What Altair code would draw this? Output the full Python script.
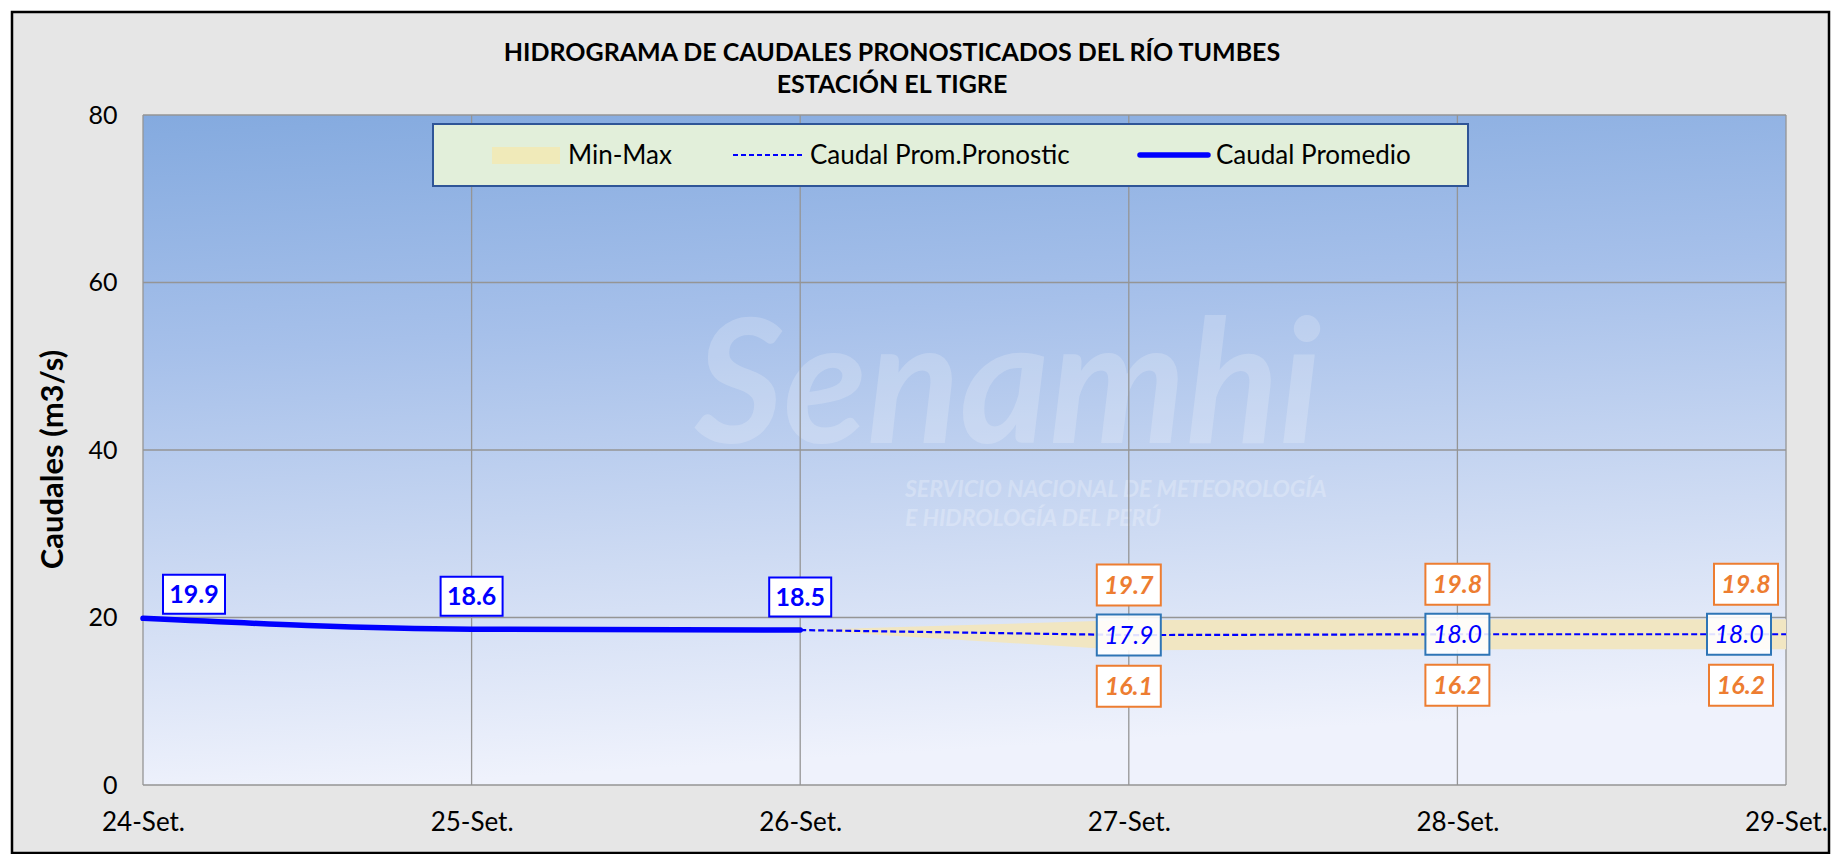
import altair as alt
import pandas as pd

# ---------------- data ----------------
fechas = ["24-Set.", "25-Set.", "26-Set.", "27-Set.", "28-Set.", "29-Set."]
caudal_obs = [19.9, 18.6, 18.5, None, None, None]
caudal_pron = [None, None, 18.5, 17.9, 18.0, 18.0]
caudal_min = [None, None, 18.5, 16.1, 16.2, 16.2]
caudal_max = [None, None, 18.5, 19.7, 19.8, 19.8]
y_ticks = [0, 20, 40, 60, 80]
titulo = ["HIDROGRAMA DE CAUDALES PRONOSTICADOS DEL RÍO TUMBES", "ESTACIÓN EL TIGRE"]
eje_y = "Caudales (m3/s)"
leyenda = ["Min-Max", "Caudal Prom.Pronostic", "Caudal Promedio"]
marca_agua = ["Senamhi", "SERVICIO NACIONAL DE METEOROLOGÍA", "E HIDROLOGÍA DEL PERÚ"]

W, H = 1643, 670
FONT = "Lato"
BLUE = "#0000FF"
ORANGE = "#ED7D31"

df = pd.DataFrame({"fecha": fechas, "i": range(len(fechas)),
                   "obs": caudal_obs, "pron": caudal_pron,
                   "mn": caudal_min, "mx": caudal_max})

xscale = alt.Scale(domain=fechas, type="point", padding=0)
yscale = alt.Scale(domain=[y_ticks[0], y_ticks[-1]], nice=False)
X = alt.X("fecha:O", scale=xscale, sort=fechas,
          axis=alt.Axis(title=None, labelFont=FONT, labelFontSize=26, labelColor="black",
                        labelAngle=0, labelAlign="center", labelBaseline="top",
                        ticks=False, domain=False, grid=False, labelPadding=24,
                        labelFlush=False, labelBound=False, labelOverlap=False, zindex=5))
Xplain = alt.X("fecha:O", scale=xscale, sort=fechas)

base = alt.Chart(df)

# frame / background of the whole chart
frame = alt.Chart(pd.DataFrame({"k": [0]})).mark_rect(
    fill="#E6E6E6", stroke="black", strokeWidth=2.5
).encode(x=alt.value(-131), x2=alt.value(1686), y=alt.value(-103), y2=alt.value(738))

# plot area gradient
bg = alt.Chart(pd.DataFrame({"x0": [fechas[0]], "x1": [fechas[-1]],
                             "y0": [y_ticks[0]], "y1": [y_ticks[-1]]})).mark_rect(
    fill={"gradient": "linear", "x1": 0, "y1": 0, "x2": 0.15, "y2": 1,
          "stops": [{"offset": 0, "color": "#84AADF"},
                    {"offset": 0.35, "color": "#A6C0EA"},
                    {"offset": 0.7, "color": "#CEDBF3"},
                    {"offset": 1, "color": "#EFF2FC"}]}
).encode(x=alt.X("x0:O", scale=xscale), x2="x1:O",
         y=alt.Y("y0:Q", scale=yscale), y2="y1:Q")

# watermark
wm_df = pd.DataFrame({"t": marca_agua})
wm1 = alt.Chart(wm_df).transform_filter(alt.datum.t == marca_agua[0]).mark_text(
    font=FONT, fontSize=172, fontWeight="bold", fontStyle="italic", color="white",
    opacity=0.2, align="center", baseline="alphabetic"
).encode(text="t:N", x=alt.value(865), y=alt.value(328))
wm2 = alt.Chart(wm_df).transform_filter(alt.datum.t == marca_agua[1]).mark_text(
    font=FONT, fontSize=23, fontWeight="bold", fontStyle="italic", color="white",
    opacity=0.25, align="left", baseline="alphabetic"
).encode(text="t:N", x=alt.value(762), y=alt.value(382))
wm3 = alt.Chart(wm_df).transform_filter(alt.datum.t == marca_agua[2]).mark_text(
    font=FONT, fontSize=23, fontWeight="bold", fontStyle="italic", color="white",
    opacity=0.25, align="left", baseline="alphabetic"
).encode(text="t:N", x=alt.value(762), y=alt.value(411))

# grid lines
vgrid = base.mark_rule(color="#959595", strokeWidth=1.3).encode(
    x=Xplain, y=alt.datum(y_ticks[0]), y2=alt.datum(y_ticks[-1]))
hgrid = alt.Chart(pd.DataFrame({"v": y_ticks})).mark_rule(color="#959595", strokeWidth=1.3).encode(
    y=alt.Y("v:Q", scale=yscale), x=alt.value(0), x2=alt.value(W))

# band
band = base.transform_filter("isValid(datum.mn)").mark_area(
    fill="#F1E6C2", fillOpacity=1, interpolate="linear"
).encode(x=Xplain, y=alt.Y("mx:Q", scale=yscale, stack=None), y2="mn:Q")

# forecast dashed line
pron_line = base.transform_filter("isValid(datum.pron)").mark_line(
    color=BLUE, strokeWidth=2.2, strokeDash=[6, 3]
).encode(x=Xplain, y=alt.Y("pron:Q", scale=yscale))

# observed thick line
obs_line = base.transform_filter("isValid(datum.obs)").mark_line(
    color=BLUE, strokeWidth=5.5, interpolate="monotone", strokeCap="round"
).encode(x=X, y=alt.Y("obs:Q", scale=yscale,
                      axis=alt.Axis(values=y_ticks, title=eje_y, labelFont=FONT, labelFontSize=25,
                                    labelColor="black", ticks=False, domain=False, grid=False,
                                    labelPadding=26, titleFont=FONT, titleFontSize=31,
                                    titleFontWeight="bold", titleColor="black", titleAngle=270,
                                    titleAlign="center", titleBaseline="middle",
                                    titleX=-90, titleY=344, zindex=5)))

BOX = "M-1,-0.64L1,-0.64L1,0.64L-1,0.64Z"
BOX_OBS = "M-1,-0.63L1,-0.63L1,0.63L-1,0.63Z"


def label(data_filter, field, dx, dy, color, stroke, style, weight, shape, size, fill_op=1.0):
    src = base.transform_filter(data_filter)
    box = src.mark_point(shape=shape, size=size, filled=False, fill="white", fillOpacity=fill_op,
                         stroke=stroke, strokeWidth=2, opacity=1, xOffset=dx, yOffset=dy).encode(
        x=Xplain, y=alt.Y(f"{field}:Q", scale=yscale))
    txt = src.mark_text(font=FONT, fontSize=25, fontStyle=style, fontWeight=weight, color=color,
                        align="center", baseline="middle", xOffset=dx, yOffset=dy + 1).encode(
        x=Xplain, y=alt.Y(f"{field}:Q", scale=yscale),
        text=alt.Text(f"{field}:Q", format=".1f"))
    return [box, txt]


labels = []
labels += label("datum.i == 0", "obs", 51, -24, BLUE, BLUE, "normal", "bold", BOX_OBS, 3844)
labels += label("datum.i == 1 || datum.i == 2", "obs", 0, -33, BLUE, BLUE, "normal", "bold", BOX_OBS, 3844)
labels += label("datum.i == 3 || datum.i == 4", "pron", 0, 0, BLUE, "#2E75B6", "italic", "normal", BOX, 4096, 0.88)
labels += label("datum.i == 5", "pron", -47, 0, BLUE, "#2E75B6", "italic", "normal", BOX, 4096, 0.88)
labels += label("datum.i == 3 || datum.i == 4", "mx", 0, -35, ORANGE, ORANGE, "italic", "bold", BOX, 4096)
labels += label("datum.i == 5", "mx", -40, -35, ORANGE, ORANGE, "italic", "bold", BOX, 4096)
labels += label("datum.i == 3 || datum.i == 4", "mn", 0, 36, ORANGE, ORANGE, "italic", "bold", BOX, 4096)
labels += label("datum.i == 5", "mn", -45, 36, ORANGE, ORANGE, "italic", "bold", BOX, 4096)

# title (two lines)
t_df = pd.DataFrame({"t": titulo, "n": [0, 1]})
title1 = alt.Chart(t_df).transform_filter("datum.n == 0").mark_text(
    font=FONT, fontSize=25, fontWeight="bold", color="black", align="center", baseline="alphabetic"
).encode(text="t:N", x=alt.value(749), y=alt.value(-54))
title2 = alt.Chart(t_df).transform_filter("datum.n == 1").mark_text(
    font=FONT, fontSize=25, fontWeight="bold", color="black", align="center", baseline="alphabetic"
).encode(text="t:N", x=alt.value(749), y=alt.value(-22))

# legend
one = pd.DataFrame({"k": [0]})
lg_box = alt.Chart(one).mark_rect(fill="#E2EFDA", stroke="#2F5597", strokeWidth=2).encode(
    x=alt.value(290), x2=alt.value(1325), y=alt.value(9), y2=alt.value(71))
lg_sw = alt.Chart(one).mark_rect(fill="#F0EAB9").encode(
    x=alt.value(349), x2=alt.value(417), y=alt.value(32), y2=alt.value(49))
lg_dash = alt.Chart(one).mark_rule(color=BLUE, strokeWidth=2, strokeDash=[5, 3]).encode(
    x=alt.value(590), x2=alt.value(660), y=alt.value(40))
lg_solid = alt.Chart(one).mark_rule(color=BLUE, strokeWidth=5.5, strokeCap="round").encode(
    x=alt.value(997), x2=alt.value(1065), y=alt.value(40))
lg_df = pd.DataFrame({"t": leyenda, "n": [0, 1, 2]})
lg_txt = []
for n, xx in zip([0, 1, 2], [425, 667, 1073]):
    lg_txt.append(alt.Chart(lg_df).transform_filter(f"datum.n == {n}").mark_text(
        font=FONT, fontSize=26, color="black", align="left", baseline="alphabetic"
    ).encode(text="t:N", x=alt.value(xx), y=alt.value(49)))

chart = alt.layer(
    frame, bg, wm1, wm2, wm3, vgrid, hgrid, band, pron_line, obs_line, *labels,
    title1, title2, lg_box, lg_sw, lg_dash, lg_solid, *lg_txt
).properties(
    width=W, height=H,
    autosize=alt.AutoSizeParams(type="none"),
    padding={"left": 135, "top": 107, "right": 47, "bottom": 69},
    background="white",
).configure_view(stroke=None)

chart.save("out.html", embed_options={"renderer": "svg", "actions": False})
